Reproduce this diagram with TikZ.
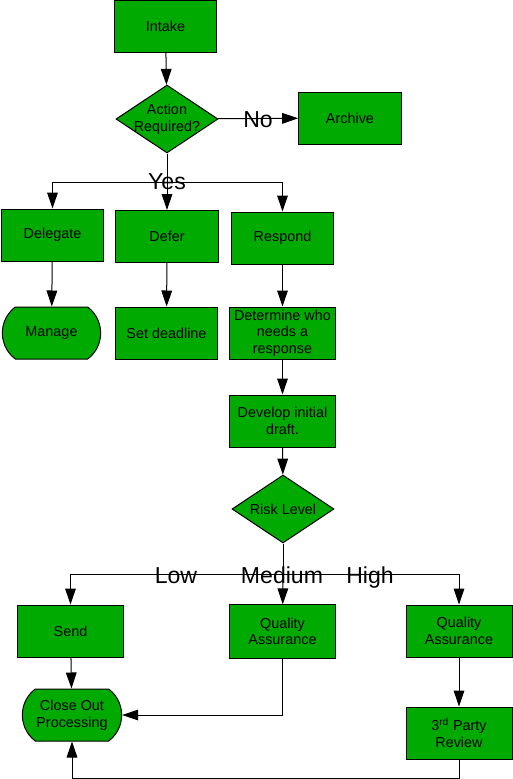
\documentclass[tikz,border=0pt]{standalone}
\usepackage{fontspec}
\setmainfont{Liberation Sans}
\usepackage{tikz}
\usetikzlibrary{arrows.meta, shapes.geometric, shapes.misc}

\definecolor{flowgreen}{RGB}{0,170,0}

\tikzset{
  every picture/.style={line width=0.75pt},
  >={Triangle[length=12pt,width=8pt]},
  box/.style={draw, fill=flowgreen, rectangle, inner sep=1pt, align=center,
    minimum width=77pt, minimum height=39pt, font=\fontsize{10.8pt}{12.5pt}\selectfont},
  term/.style={box, rounded rectangle, rounded rectangle arc length=106},
  decision/.style={draw, fill=flowgreen, diamond, inner sep=0pt,
    minimum width=76.5pt, minimum height=51pt},
  dtext/.style={align=center, font=\fontsize{10.8pt}{12.5pt}\selectfont},
  branch/.style={anchor=base, inner sep=0pt, font=\fontsize{17.3pt}{20pt}\selectfont},
}

\begin{document}
\begin{tikzpicture}[x=0.75pt,y=0.75pt,yscale=-1,xscale=1]
    \useasboundingbox (0,0) rectangle (513,779);

    %Shape: Rectangle
    \node [box] (intake) at (165.5,26.5) {Intake};
    %Shape: Diamond
    \node [decision, label={[dtext]center:Action\\Required?}] (act) at (167,119) {};
    %Shape: Rectangle
    \node [box] (archive) at (350,118) {Archive};

    %Shape: Rectangle
    \node [box] (delegate) at (52.5,235) {Delegate};
    %Shape: Rectangle
    \node [box] (defer) at (167,236.5) {Defer};
    %Shape: Rectangle
    \node [box] (respond) at (282.5,238) {Respond};

    %Shape: Terminator
    \node [term, minimum width=75.75pt] (manage) at (51.5,333) {Manage};
    %Shape: Rectangle
    \node [box] (deadline) at (166.5,333) {Set deadline};
    %Shape: Rectangle
    \node [box, minimum width=79pt] (determine) at (282.5,333) {Determine who\\needs a\\response};
    %Shape: Rectangle
    \node [box, minimum width=79pt] (develop) at (282.5,421) {Develop initial\\draft.};
    %Shape: Diamond
    \node [decision, label={[dtext]center:Risk Level}] (risk) at (283,509) {};

    %Shape: Rectangle
    \node [box, minimum width=80pt] (send) at (70.5,631) {Send};
    %Shape: Rectangle
    \node [box, minimum width=79pt, minimum height=40pt] (qamed) at (282.5,631.5) {Quality\\Assurance};
    %Shape: Rectangle
    \node [box, minimum width=79.5pt] (qahigh) at (459,631) {Quality\\Assurance};
    %Shape: Terminator
    \node [term, minimum width=76.5pt] (close) at (72,715) {Close Out\\Processing};
    %Shape: Rectangle
    \node [box, minimum width=79.5pt] (review) at (459,733) {3\textsuperscript{rd} Party\\Review};

    % Branch points
    \coordinate (yes) at (167,182);
    \coordinate (lvl) at (283,574);

    %Straight Lines
    \draw [->] (intake) -- (act);
    \draw [->] (act) -- (archive);
    \draw (act) -- (yes);
    \draw [->] (yes) -| (delegate);
    \draw [->] (yes) -- (defer);
    \draw [->] (yes) -| (respond);
    \draw [->] (delegate) -- (manage);
    \draw [->] (defer) -- (deadline);
    \draw [->] (respond) -- (determine);
    \draw [->] (determine) -- (develop);
    \draw [->] (develop) -- (risk);
    \draw (risk) -- (lvl);
    \draw [->] (lvl) -| (send);
    \draw [->] (lvl) -- (qamed);
    \draw [->] (lvl) -| (qahigh);
    \draw [->] (send) -- (close);
    \draw [->] (qamed.south) |- (close.east);
    \draw [->] (qahigh) -- (review);
    \draw [->] (review.south) -- ++(0,19) -| (close.south);

    % Text Node
    \node [branch] (nolbl) at (258,127) {No};
    % Text Node
    \node [branch] (yeslbl) at (167,189) {Yes};
    % Text Node
    \node [branch] (lowlbl) at (176,583) {Low};
    % Text Node
    \node [branch] (medlbl) at (282,583) {Medium};
    % Text Node
    \node [branch] (highlbl) at (370,583) {High};

\end{tikzpicture}
\end{document}
